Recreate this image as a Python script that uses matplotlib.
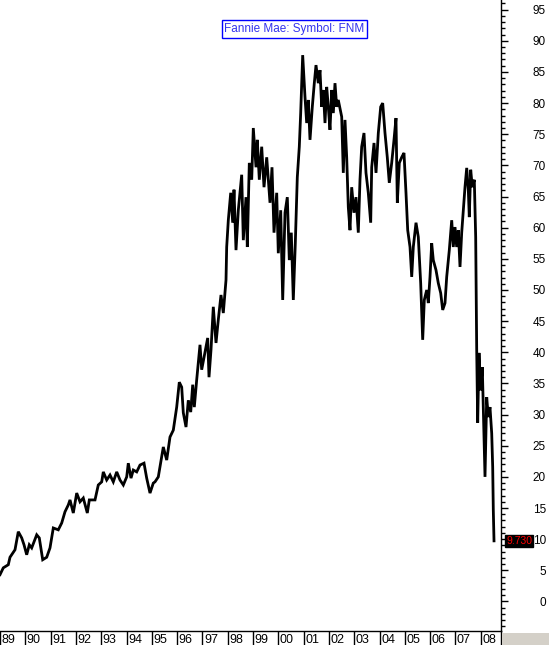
import matplotlib
matplotlib.use("Agg")
import matplotlib.pyplot as plt
from matplotlib.ticker import MultipleLocator
from matplotlib.patches import Rectangle
import matplotlib.transforms as mtrans

plt.rcParams['font.family'] = ['Liberation Sans', 'DejaVu Sans']

# FNM price trace (decimal year, price in $)
years = [
    1989.000, 1989.130, 1989.328, 1989.395, 1989.593, 1989.723, 1989.858, 1989.949,
    1990.055, 1990.158, 1990.253, 1990.451, 1990.553, 1990.688, 1990.846, 1990.976,
    1991.107, 1991.304, 1991.439, 1991.569, 1991.700, 1991.767, 1991.897, 1992.032,
    1992.162, 1992.292, 1992.451, 1992.530, 1992.755, 1992.885, 1993.020, 1993.083,
    1993.217, 1993.348, 1993.478, 1993.613, 1993.743, 1993.874, 1994.008, 1994.071,
    1994.178, 1994.269, 1994.403, 1994.534, 1994.692, 1994.798, 1994.929, 1995.059,
    1995.126, 1995.257, 1995.455, 1995.589, 1995.719, 1995.850, 1995.984, 1996.087,
    1996.182, 1996.245, 1996.352, 1996.443, 1996.538, 1996.617, 1996.680, 1996.775,
    1996.905, 1996.972, 1997.103, 1997.209, 1997.261, 1997.340, 1997.431, 1997.538,
    1997.628, 1997.735, 1997.826, 1997.933, 1997.960, 1998.024, 1998.119, 1998.198,
    1998.249, 1998.328, 1998.419, 1998.553, 1998.617, 1998.723, 1998.775, 1998.854,
    1998.949, 1999.012, 1999.119, 1999.170, 1999.249, 1999.344, 1999.435, 1999.542,
    1999.672, 1999.751, 1999.830, 1999.937, 2000.000, 2000.095, 2000.174, 2000.265,
    2000.356, 2000.435, 2000.514, 2000.593, 2000.672, 2000.751, 2000.830, 2000.885,
    2000.964, 2001.055, 2001.122, 2001.186, 2001.253, 2001.344, 2001.423, 2001.490,
    2001.581, 2001.648, 2001.715, 2001.779, 2001.846, 2001.913, 2001.976, 2002.043,
    2002.111, 2002.174, 2002.241, 2002.308, 2002.371, 2002.506, 2002.569, 2002.636,
    2002.703, 2002.767, 2002.834, 2002.901, 2002.992, 2003.071, 2003.162, 2003.229,
    2003.296, 2003.387, 2003.466, 2003.557, 2003.652, 2003.692, 2003.783, 2003.862,
    2003.953, 2004.047, 2004.126, 2004.217, 2004.308, 2004.387, 2004.482, 2004.573,
    2004.652, 2004.704, 2004.783, 2004.877, 2004.968, 2005.047, 2005.115, 2005.206,
    2005.273, 2005.336, 2005.443, 2005.534, 2005.628, 2005.707, 2005.771, 2005.866,
    2005.929, 2005.996, 2006.063, 2006.126, 2006.233, 2006.324, 2006.419, 2006.498,
    2006.589, 2006.656, 2006.759, 2006.854, 2006.917, 2006.984, 2007.051, 2007.115,
    2007.182, 2007.249, 2007.312, 2007.379, 2007.447, 2007.510, 2007.549, 2007.605,
    2007.668, 2007.747, 2007.802, 2007.842, 2007.881, 2007.933, 2008.000, 2008.063,
    2008.130, 2008.170, 2008.237, 2008.300, 2008.367, 2008.435, 2008.474, 2008.498,
    2008.526,
]
prices = [
    4.3, 5.4, 5.9, 7.1, 8.3, 11.2, 10.2, 9.1,
    7.5, 9.1, 8.6, 10.7, 10.2, 6.7, 7.1, 8.6,
    11.8, 11.5, 12.6, 14.4, 15.5, 16.3, 14.2, 17.4,
    16.0, 16.6, 14.2, 16.3, 16.3, 18.7, 19.2, 20.8,
    19.5, 20.3, 19.2, 20.8, 19.5, 18.7, 20.0, 22.2,
    19.8, 21.1, 20.8, 21.9, 22.2, 19.8, 17.4, 19.0,
    19.2, 20.0, 24.8, 22.7, 26.4, 27.5, 31.2, 35.2,
    34.4, 30.3, 28.0, 32.3, 30.4, 34.8, 31.2, 35.6,
    41.2, 37.2, 40.0, 42.3, 36.0, 40.4, 47.3, 41.5,
    45.2, 49.2, 46.3, 51.6, 56.9, 61.2, 65.6, 60.8,
    66.1, 56.4, 62.8, 68.5, 58.0, 64.9, 56.9, 70.4,
    67.7, 76.0, 69.7, 74.1, 67.7, 73.0, 66.5, 71.3,
    64.0, 69.7, 59.2, 65.6, 55.9, 62.8, 48.4, 62.4,
    64.9, 54.8, 59.2, 48.4, 57.5, 68.1, 73.0, 78.4,
    87.7, 81.0, 76.8, 80.5, 74.1, 79.4, 83.2, 86.1,
    83.2, 85.3, 79.4, 82.1, 76.8, 82.6, 79.4, 75.7,
    82.1, 78.4, 83.2, 79.4, 80.5, 77.8, 68.8, 77.3,
    71.3, 63.3, 59.6, 66.5, 62.4, 64.9, 59.2, 67.7,
    73.0, 75.2, 68.8, 65.6, 60.8, 69.7, 73.6, 68.8,
    75.2, 79.4, 80.0, 75.2, 71.3, 67.2, 70.4, 74.1,
    77.6, 64.0, 70.4, 71.3, 72.0, 65.6, 59.6, 56.9,
    52.1, 56.9, 60.8, 58.5, 51.1, 42.0, 48.4, 50.0,
    47.9, 52.1, 57.5, 54.8, 53.2, 51.1, 49.5, 46.8,
    47.9, 52.1, 56.4, 61.2, 56.9, 60.1, 56.9, 59.6,
    53.7, 59.2, 62.8, 66.5, 69.6, 66.1, 61.7, 69.3,
    66.5, 67.7, 58.5, 40.4, 28.7, 39.9, 33.9, 37.6,
    26.4, 20.0, 32.8, 29.6, 31.2, 27.0, 21.6, 14.7,
    9.73,
]
year_labels = ['89', '90', '91', '92', '93', '94', '95', '96', '97', '98',
               '99', '00', '01', '02', '03', '04', '05', '06', '07', '08']
year_starts = list(range(1989, 2009))
last_price = 9.73
title_text = "Fannie Mae: Symbol: FNM"

W, H = 549, 645
fig = plt.figure(figsize=(W / 100, H / 100), dpi=100)

x0, x1 = 1989.0, 1989.0 + 501 / 25.3
ax_right = 501 / W
band_h = 14 / H

ax = fig.add_axes([0, band_h, ax_right, 1 - band_h])
ax.plot(years, prices, color='black', lw=2.0, solid_joinstyle='miter')
ax.set_xlim(x0, x1)
ax.set_ylim(-4.74, 96.55)

for s in ['top', 'left', 'bottom']:
    ax.spines[s].set_visible(False)
ax.spines['right'].set_linewidth(1.0)
ax.set_xticks([])
ax.yaxis.tick_right()
ax.yaxis.set_major_locator(MultipleLocator(5))
ax.yaxis.set_minor_locator(MultipleLocator(1))
ax.tick_params(axis='y', which='major', length=5.0, width=1.0, pad=27.4,
               labelsize=8.5, colors='black')
ax.tick_params(axis='y', which='minor', length=2.8, width=1.0)
ax.set_yticks(range(0, 100, 5))
for lab in ax.get_yticklabels():
    lab.set_horizontalalignment('right')

# last price marker next to the axis
tr = mtrans.blended_transform_factory(ax.transAxes, ax.transData)
ax.text(1.01, last_price, f"{last_price:.3f}", transform=tr, color='red',
        fontsize=7.5, ha='left', va='center', clip_on=False,
        bbox=dict(facecolor='black', edgecolor='black', pad=0.8))

# title box
fig.text(294.5 / W, 1 - 29 / H, title_text, color='#3333ee', fontsize=8.5,
         ha='center', va='center',
         bbox=dict(facecolor='white', edgecolor='#0000ff', linewidth=1.0, pad=2.0))

# year band along the bottom
band = fig.add_axes([0, 0, ax_right, band_h])
band.set_xlim(x0, x1)
band.set_ylim(0, 1)
band.set_xticks([])
band.set_yticks([])
for s in ['left', 'bottom']:
    band.spines[s].set_visible(False)
band.spines['top'].set_linewidth(1.0)
band.spines['right'].set_linewidth(1.0)
for yr, lab in zip(year_starts, year_labels):
    band.axvline(yr, color='black', lw=1.0)
    band.text(yr + 1.5 / 25.3, 0.35, lab, fontsize=9, ha='left', va='center')

fig.patches.append(Rectangle((ax_right + 1 / W, 0), 1 - ax_right, 12 / H,
                             transform=fig.transFigure, facecolor='#d4d0c8',
                             edgecolor='none'))

fig.savefig('out.png', dpi=100)
